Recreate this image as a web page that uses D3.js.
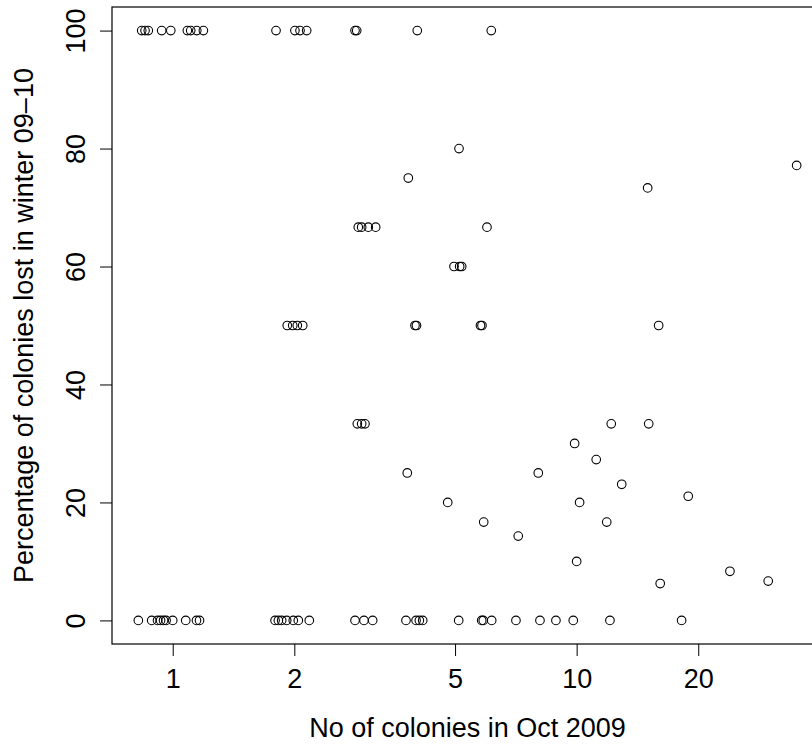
<!DOCTYPE html>
<html>
<head>
<meta charset="utf-8">
<script src="https://cdn.jsdelivr.net/npm/d3@7"></script>
<style>
  html, body { margin: 0; padding: 0; background: #fff; }
  svg { display: block; }
  text { font-family: "Liberation Sans", Arial, Helvetica, sans-serif; fill: #000; }
</style>
</head>
<body>
<svg id="chart" width="812" height="745"></svg>
<script>
// Apiaries: colonies held in Oct 2009 (jittered on a log axis) and share lost over winter 09-10
const colonies = [
  // lost 100%
  0.838, 0.854, 0.870, 0.939, 0.989, 1.087, 1.108, 1.147, 1.191,
  1.802, 2.007, 2.066, 2.146, 2.827, 2.854, 4.031, 6.146,
  // lost 80, 75, 77, 73
  5.114, 3.830, 35.05, 14.99,
  // lost two thirds
  2.880, 2.936, 3.049, 3.180, 5.998,
  // lost 60%
  4.970, 5.133, 5.192,
  // lost half
  1.921, 1.982, 2.034, 2.098, 3.979, 4.013, 5.780, 5.829, 15.96,
  // lost a third
  2.864, 2.936, 2.992, 12.18, 15.08,
  // lost 30 .. 6 %
  9.886, 11.18, 3.808, 8.035, 12.93, 4.795, 10.17, 18.89,
  5.887, 11.87, 7.168, 10.00, 16.10, 23.96, 29.80,
  // lost nothing
  0.822, 0.887, 0.917, 0.933, 0.949, 0.963, 1.000, 1.077, 1.145, 1.165,
  1.792, 1.826, 1.861, 1.915, 1.988, 2.046, 2.178,
  2.827, 2.975, 3.126,
  3.780, 4.003, 4.079, 4.158,
  5.105, 5.820, 5.873, 6.161, 7.075, 8.113, 8.886, 9.808, 12.09, 18.19
];
const lostPct = [
  100, 100, 100, 100, 100, 100, 100, 100, 100,
  100, 100, 100, 100, 100, 100, 100, 100,
  80, 75, 77.14, 73.33,
  66.67, 66.67, 66.67, 66.67, 66.67,
  60, 60, 60,
  50, 50, 50, 50, 50, 50, 50, 50, 50,
  33.33, 33.33, 33.33, 33.33, 33.33,
  30, 27.27, 25, 25, 23.08, 20, 20, 21.05,
  16.67, 16.67, 14.29, 10, 6.25, 8.33, 6.67,
  0, 0, 0, 0, 0, 0, 0, 0, 0, 0,
  0, 0, 0, 0, 0, 0, 0,
  0, 0, 0,
  0, 0, 0, 0,
  0, 0, 0, 0, 0, 0, 0, 0, 0, 0
];
const xTicks = [1, 2, 5, 10, 20];
const yTicks = [0, 20, 40, 60, 80, 100];
const xTitle = "No of colonies in Oct 2009";
const yTitle = "Percentage of colonies lost in winter 09\u201310";

const svg = d3.select("#chart");
const plot = { left: 112, right: 823, top: 7, bottom: 644 };
const fontSize = 27;

// log axis padded by 4% of the data range on each side
const lx = d3.extent(colonies).map(Math.log10);
const padX = 0.04 * (lx[1] - lx[0]);
const x = d3.scaleLog()
  .domain([Math.pow(10, lx[0] - padX), Math.pow(10, lx[1] + padX)])
  .range([plot.left, plot.right]);

const ly = d3.extent(lostPct);
const padY = 0.04 * (ly[1] - ly[0]);
const y = d3.scaleLinear()
  .domain([ly[0] - padY, ly[1] + padY])
  .range([plot.bottom, plot.top]);

// points
const pts = colonies.map((c, i) => ({ c, p: lostPct[i] }));
svg.append("g")
  .selectAll("circle")
  .data(pts)
  .join("circle")
  .attr("cx", d => x(d.c))
  .attr("cy", d => y(d.p))
  .attr("r", 4.3)
  .attr("fill", "none")
  .attr("stroke", "#000")
  .attr("stroke-width", 1.1);

// x axis
const gx = svg.append("g")
  .attr("transform", `translate(0,${plot.bottom})`)
  .call(d3.axisBottom(x).tickValues(xTicks).tickFormat(d3.format("d"))
    .tickSize(12).tickSizeOuter(0).tickPadding(13));
gx.select(".domain").remove();
gx.selectAll(".tick line").attr("stroke", "#000").attr("stroke-width", 1);
gx.selectAll(".tick text")
  .attr("font-size", fontSize)
  .attr("font-family", "Liberation Sans, Arial, sans-serif");

// y axis, labels drawn parallel to the axis
const gy = svg.append("g")
  .attr("transform", `translate(${plot.left},0)`)
  .call(d3.axisLeft(y).tickValues(yTicks).tickFormat(d3.format("d"))
    .tickSize(12).tickSizeOuter(0));
gy.select(".domain").remove();
gy.selectAll(".tick line").attr("stroke", "#000").attr("stroke-width", 1);
gy.selectAll(".tick text")
  .attr("transform", "rotate(-90)")
  .attr("x", 0)
  .attr("y", -27)
  .attr("dy", 0)
  .attr("text-anchor", "middle")
  .attr("font-size", fontSize)
  .attr("font-family", "Liberation Sans, Arial, sans-serif");

// plot frame
svg.append("rect")
  .attr("x", plot.left)
  .attr("y", plot.top)
  .attr("width", plot.right - plot.left)
  .attr("height", plot.bottom - plot.top)
  .attr("fill", "none")
  .attr("stroke", "#000")
  .attr("stroke-width", 1.2);

// axis titles
svg.append("text")
  .attr("x", (plot.left + plot.right) / 2)
  .attr("y", 737)
  .attr("text-anchor", "middle")
  .attr("font-size", fontSize)
  .text(xTitle);

svg.append("text")
  .attr("transform", `translate(33,${(plot.top + plot.bottom) / 2}) rotate(-90)`)
  .attr("text-anchor", "middle")
  .attr("font-size", fontSize)
  .text(yTitle);
</script>
</body>
</html>
